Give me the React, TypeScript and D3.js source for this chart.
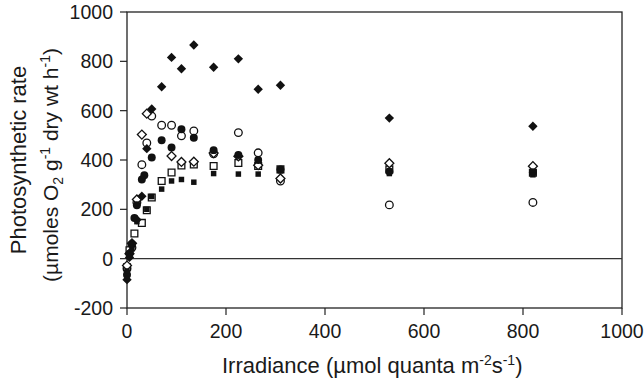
import React from "react";
import * as d3 from "d3";

// ---- data ----
const xTicks = [0, 200, 400, 600, 800, 1000];
const yTicks = [-200, 0, 200, 400, 600, 800, 1000];

const fdX = [0, 5, 10, 20, 30, 40, 50, 70, 90, 110, 135, 175, 225, 265, 310, 530, 820];
const fdY = [-85, 5, 60, 158, 253, 446, 607, 697, 816, 770, 866, 776, 810, 687, 703, 570, 537];

const odX = [0, 5, 10, 20, 30, 40, 90, 110, 135, 175, 225, 265, 310, 530, 820];
const odY = [-28, 20, 62, 240, 503, 588, 416, 392, 393, 428, 415, 379, 325, 387, 375];

const fcX = [0, 5, 10, 15, 20, 30, 35, 50, 70, 90, 110, 135, 175, 225, 265, 310, 530, 820];
const fcY = [-65, 20, 58, 165, 217, 321, 338, 410, 480, 451, 525, 490, 440, 420, 400, 362, 353, 350];

const ocX = [0, 10, 20, 30, 40, 50, 70, 90, 110, 135, 175, 225, 265, 310, 530, 820];
const ocY = [-40, 45, 228, 381, 469, 578, 541, 541, 498, 518, 425, 511, 429, 315, 218, 228];

const fsX = [0, 10, 20, 40, 50, 70, 90, 110, 135, 175, 225, 265, 310, 530, 820];
const fsY = [-50, 40, 150, 200, 252, 282, 315, 321, 310, 345, 343, 343, 356, 345, 340];

const osX = [0, 5, 15, 30, 40, 50, 70, 90, 110, 135, 175, 225, 265, 310, 530, 820];
const osY = [-35, 34, 102, 145, 196, 248, 315, 349, 378, 382, 376, 388, 376, 362, 362, 348];

const W = 644, H = 382;
const left = 127, right = 622, top = 12, bottom = 308;
const font = "'Liberation Sans', Arial, Helvetica, sans-serif";
const ink = "#1a1a1a";

export default function App() {
  const x = d3.scaleLinear().domain([0, 1000]).range([left, right]);
  const y = d3.scaleLinear().domain([-200, 1000]).range([bottom, top]);

  const circle = (s: number) => d3.symbol().type(d3.symbolCircle).size(s)()!;
  const square = (s: number) => d3.symbol().type(d3.symbolSquare).size(s)()!;

  const pts = (xs: number[], ys: number[]) => xs.map((v, i) => [x(v), y(ys[i])] as [number, number]);

  const diamondPath = square(40);
  const circlePath = circle(46);
  const fCirclePath = circle(50);
  const oSquarePath = square(46);
  const fSquarePath = square(30);

  return (
    <svg width={W} height={H} style={{ position: "absolute", left: 0, top: 0, background: "#fff" }} fontFamily={font}>
      <rect x={0} y={0} width={W} height={H} fill="#fff" />
      {/* frame */}
      <rect x={left} y={top} width={right - left} height={bottom - top} fill="none" stroke="#222" strokeWidth={1.3} />
      {/* zero line */}
      <line x1={left} x2={right} y1={y(0)} y2={y(0)} stroke="#333" strokeWidth={1.2} />
      {/* y ticks */}
      {yTicks.map((t) => (
        <g key={"y" + t}>
          <line x1={left - 7} x2={left} y1={y(t)} y2={y(t)} stroke="#222" strokeWidth={1.2} />
          <text x={left - 14} y={y(t)} dy="0.36em" textAnchor="end" fontSize={19.5} fill={ink}>
            {t}
          </text>
        </g>
      ))}
      {/* x ticks */}
      {xTicks.map((t) => (
        <g key={"x" + t}>
          <line x1={x(t)} x2={x(t)} y1={bottom} y2={bottom + 7} stroke="#222" strokeWidth={1.2} />
          <text x={x(t)} y={338} textAnchor="middle" fontSize={19.5} fill={ink}>
            {t}
          </text>
        </g>
      ))}
      {/* axis titles */}
      <text x={222} y={373} textAnchor="start" fontSize={22} fill={ink}>
        Irradiance (µmol quanta m<tspan dy={-8} fontSize={14}>-2</tspan>
        <tspan dy={8}>s</tspan>
        <tspan dy={-8} fontSize={14}>-1</tspan>
        <tspan dy={8}>)</tspan>
      </text>
      <g transform={`translate(26, ${(top + bottom) / 2}) rotate(-90)`}>
        <text x={0} y={0} textAnchor="middle" fontSize={22} fill={ink}>
          Photosynthetic rate
        </text>
      </g>
      <g transform={`translate(58, ${(top + bottom) / 2 + 5}) rotate(-90)`}>
        <text x={0} y={0} textAnchor="middle" fontSize={21} fill={ink}>
          (µmoles O<tspan dy={5} fontSize={14}>2</tspan>
          <tspan dy={-5}> g</tspan>
          <tspan dy={-8} fontSize={14}>-1</tspan>
          <tspan dy={8}> dry wt h</tspan>
          <tspan dy={-8} fontSize={14}>-1</tspan>
          <tspan dy={8}>)</tspan>
        </text>
      </g>
      {/* open markers */}
      {pts(ocX, ocY).map(([px, py], i) => (
        <path key={"oc" + i} d={circlePath} transform={`translate(${px},${py})`} fill="#fff" stroke="#111" strokeWidth={1.3} />
      ))}
      {pts(osX, osY).map(([px, py], i) => (
        <path key={"os" + i} d={oSquarePath} transform={`translate(${px},${py})`} fill="#fff" stroke="#111" strokeWidth={1.3} />
      ))}
      {pts(odX, odY).map(([px, py], i) => (
        <path key={"od" + i} d={diamondPath} transform={`translate(${px},${py}) rotate(45)`} fill="#fff" stroke="#111" strokeWidth={1.3} />
      ))}
      {/* filled markers */}
      {pts(fcX, fcY).map(([px, py], i) => (
        <path key={"fc" + i} d={fCirclePath} transform={`translate(${px},${py})`} fill="#111" />
      ))}
      {pts(fsX, fsY).map(([px, py], i) => (
        <path key={"fs" + i} d={fSquarePath} transform={`translate(${px},${py})`} fill="#111" />
      ))}
      {pts(fdX, fdY).map(([px, py], i) => (
        <path key={"fd" + i} d={square(44)} transform={`translate(${px},${py}) rotate(45)`} fill="#111" />
      ))}
    </svg>
  );
}
